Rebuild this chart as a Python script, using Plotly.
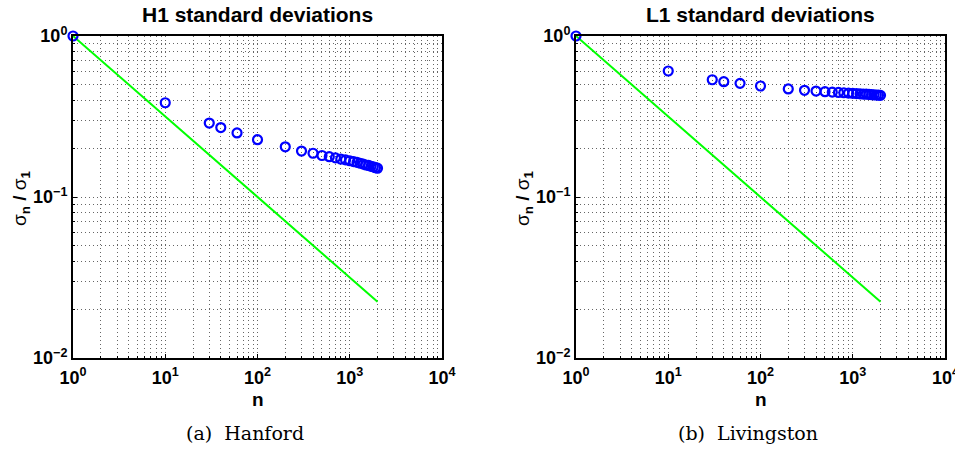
import plotly.graph_objects as go

# ---- data ----
n_vals = [1, 10, 30, 40, 60, 100, 200, 300, 400, 500, 600, 700, 800, 900, 1000,
          1100, 1200, 1300, 1400, 1500, 1600, 1700, 1800, 1900, 2000]
h1_sigma = [1.0, 0.385, 0.288, 0.270, 0.250, 0.227, 0.205, 0.193, 0.187, 0.181, 0.178,
            0.175, 0.172, 0.170, 0.168, 0.166, 0.164, 0.162, 0.160, 0.158, 0.157,
            0.155, 0.154, 0.152, 0.151]
l1_sigma = [1.0, 0.606, 0.535, 0.520, 0.508, 0.489, 0.469, 0.460, 0.455, 0.451, 0.448,
            0.446, 0.444, 0.442, 0.440, 0.439, 0.437, 0.436, 0.435, 0.434, 0.432,
            0.431, 0.430, 0.429, 0.428]
ref_n = [1, 2000]
ref_sigma = [1.0, 0.02236]

titles = ["H1 standard deviations", "L1 standard deviations"]
captions = ["(a)  Hanford", "(b)  Livingston"]
x_tick_vals = [1, 10, 100, 1000, 10000]
x_tick_text = ["<b>10<sup>0</sup></b>", "<b>10<sup>1</sup></b>", "<b>10<sup>2</sup></b>",
               "<b>10<sup>3</sup></b>", "<b>10<sup>4</sup></b>"]
y_tick_vals = [0.01, 0.1, 1]
y_tick_text = ["<b>10<sup>−2</sup></b>", "<b>10<sup>−1</sup></b>", "<b>10<sup>0</sup></b>"]

W, H = 955, 452
FONT = "Liberation Sans, Arial, sans-serif"
TICK_SIZE = 18
fig = go.Figure()

x_domains = [[73 / W, 442 / W], [576 / W, 945 / W]]
y_domain = [1 - 358 / H, 1 - 36 / H]
series = [h1_sigma, l1_sigma]

for i in range(2):
    xa = "x" if i == 0 else "x2"
    ya = "y" if i == 0 else "y2"
    fig.add_trace(go.Scatter(x=ref_n, y=ref_sigma, mode="lines",
                             line=dict(color="#00ff00", width=2),
                             xaxis=xa, yaxis=ya, showlegend=False, cliponaxis=False))
    fig.add_trace(go.Scatter(x=n_vals, y=series[i], mode="markers",
                             marker=dict(symbol="circle-open", size=9, color="#0000ff",
                                         line=dict(width=2.2, color="#0000ff")),
                             xaxis=xa, yaxis=ya, showlegend=False, cliponaxis=False))

GRIDC = "#666666"
axis_common = dict(type="log", showline=True, linecolor="black", linewidth=2, mirror=True,
                   ticks="inside", ticklen=4, tickcolor="black", zeroline=False,
                   automargin=False,
                   tickfont=dict(family=FONT, size=TICK_SIZE, color="black"),
                   showgrid=True, gridcolor=GRIDC, gridwidth=1, griddash="1px,3px",
                   minor=dict(dtick="D1", showgrid=True, gridcolor=GRIDC, gridwidth=1,
                              griddash="1px,3px", ticks="inside", ticklen=2, tickcolor="black"))

for i in range(2):
    sx = "" if i == 0 else "2"
    fig.layout["xaxis" + sx] = dict(axis_common, domain=x_domains[i], range=[0, 4],
                                    tickvals=x_tick_vals, ticktext=x_tick_text,
                                    ticklabelstandoff=2, anchor="y" + sx)
    fig.layout["yaxis" + sx] = dict(axis_common, domain=y_domain, range=[-2, 0],
                                    tickvals=y_tick_vals, ticktext=y_tick_text,
                                    anchor="x" + sx)

annotations = []
centers = [(x_domains[0][0] + x_domains[0][1]) / 2, (x_domains[1][0] + x_domains[1][1]) / 2]
ylab_x = [21 / W, 524 / W]
caption_x = [245 / W, 748 / W]
for i in range(2):
    annotations.append(dict(text="<b>" + titles[i] + "</b>", x=centers[i], y=1 - 15 / H,
                            xref="paper", yref="paper",
                            showarrow=False, xanchor="center", yanchor="middle",
                            font=dict(family=FONT, size=21, color="black")))
    annotations.append(dict(text="<b>n</b>", x=centers[i], y=1 - 399 / H, xref="paper", yref="paper",
                            showarrow=False, xanchor="center", yanchor="middle",
                            font=dict(family=FONT, size=19, color="black")))
    annotations.append(dict(text="σ<sub><b>n</b></sub> <b>/</b> σ<sub><b>1</b></sub>", x=ylab_x[i],
                            y=1 - 199 / H,
                            xref="paper", yref="paper", textangle=-90,
                            showarrow=False, xanchor="center", yanchor="middle",
                            font=dict(family=FONT, size=19, color="black")))
    annotations.append(dict(text=captions[i], x=caption_x[i], y=1 - 433 / H, xref="paper", yref="paper",
                            showarrow=False, xanchor="center", yanchor="middle",
                            font=dict(family="DejaVu Serif", size=19, color="black")))

# right-most tick label of the right panel (partly outside the page in the reference)
annotations.append(dict(text=x_tick_text[-1], x=4, y=1 - 376 / H, xref="x2", yref="paper",
                        showarrow=False, xanchor="center", yanchor="middle",
                        font=dict(family=FONT, size=TICK_SIZE, color="black")))

fig.update_layout(width=W, height=H, margin=dict(l=0, r=0, t=0, b=0, autoexpand=False),
                  paper_bgcolor="white", plot_bgcolor="white",
                  annotations=annotations)

fig.write_html("out.html")
